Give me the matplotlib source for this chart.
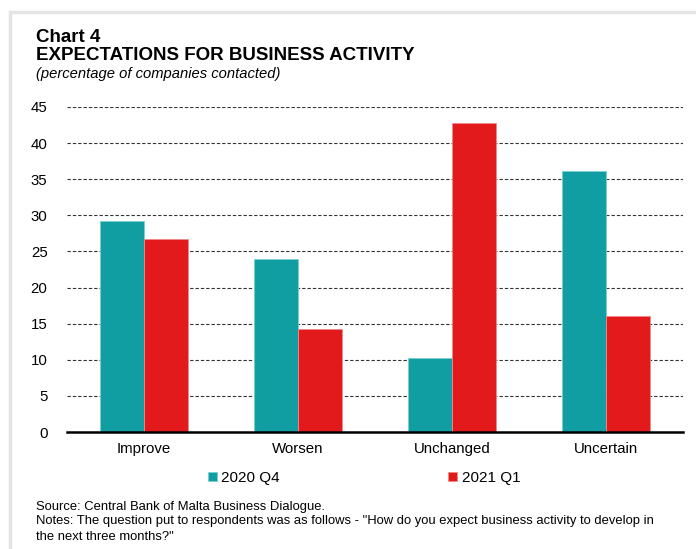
import numpy as np
import matplotlib.pyplot as plt
from matplotlib.patches import Rectangle

plt.rcParams['font.family'] = ['Liberation Sans', 'DejaVu Sans']

categories = ['Improve', 'Worsen', 'Unchanged', 'Uncertain']
q4_2020 = [29.2, 24.0, 10.3, 36.2]
q1_2021 = [26.7, 14.2, 42.8, 16.1]
series_names = ['2020 Q4', '2021 Q1']
colors = ['#109EA3', '#E21A1C']

fig = plt.figure(figsize=(6.96, 5.49), dpi=100)
W, H = 696, 549

# light frame around the panel
fig.patches.append(Rectangle((10 / W, -0.1), 2, 1.1 - 12 / H, transform=fig.transFigure,
                             fill=False, edgecolor='#E4E4E4', linewidth=2.5, zorder=0))

ax = fig.add_axes([67 / W, 1 - 432 / H, 616 / W, 325 / H])
x = np.arange(len(categories))
w = 0.285
ax.bar(x - w / 2, q4_2020, w, color=colors[0], edgecolor='#7CCFD2', linewidth=0.6,
       label=series_names[0], zorder=3)
ax.bar(x + w / 2, q1_2021, w, color=colors[1], edgecolor='#F08A8A', linewidth=0.6,
       label=series_names[1], zorder=3)

ax.set_xlim(-0.5, 3.5)
ax.set_ylim(0, 45)
ax.set_yticks(range(0, 46, 5))
ax.set_xticks(x)
ax.set_xticklabels(categories)
ax.yaxis.grid(True, linestyle=(0, (3, 1.8)), color='#333333', linewidth=0.8, zorder=0)
for s in ['top', 'right', 'left']:
    ax.spines[s].set_visible(False)
ax.spines['bottom'].set_linewidth(1.8)
ax.spines['bottom'].set_zorder(4)
ax.tick_params(axis='both', length=0, labelsize=10.8, colors='black', pad=7)
ax.tick_params(axis='y', pad=14)

fig.legend(loc='center', bbox_to_anchor=(364 / W, 1 - 478 / H), ncol=2, frameon=False,
           fontsize=11, handlelength=0.6, handleheight=0.6, handletextpad=0.3,
           columnspacing=11.0)

fig.text(36 / W, 1 - 37 / H, 'Chart 4', fontsize=13.5, fontweight='bold', va='center')
fig.text(36 / W, 1 - 55 / H, 'EXPECTATIONS FOR BUSINESS ACTIVITY', fontsize=13.5,
         fontweight='bold', va='center')
fig.text(36 / W, 1 - 74 / H, '(percentage of companies contacted)', fontsize=10.6,
         style='italic', va='center')
fig.text(36 / W, 1 - 507 / H, 'Source: Central Bank of Malta Business Dialogue.',
         fontsize=9.4, va='center')
fig.text(36 / W, 1 - 515 / H,
         'Notes: The question put to respondents was as follows - "How do you expect business activity to develop in\n'
         'the next three months?"', fontsize=9.4, va='top', linespacing=1.45)

fig.savefig('out.png', dpi=100)
